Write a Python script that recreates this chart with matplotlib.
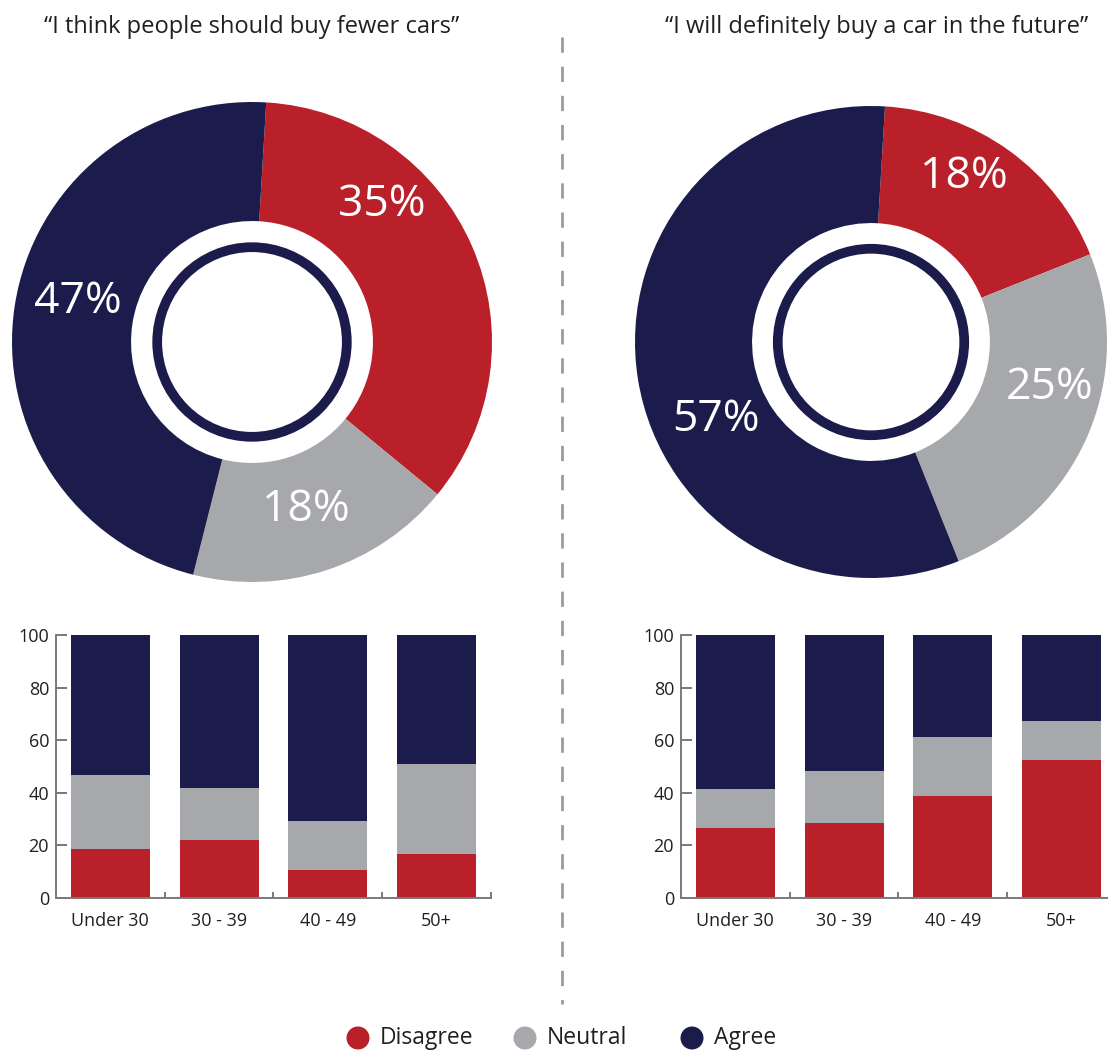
import matplotlib
matplotlib.use("Agg")
import matplotlib.pyplot as plt
from matplotlib.patches import Circle
from matplotlib.lines import Line2D
import numpy as np

plt.rcParams['font.family'] = ['Open Sans', 'DejaVu Sans']

# ---- data ----
responses = ["Disagree", "Neutral", "Agree"]
colors = ["#B92029", "#A7A8AB", "#1C1C4C"]

titles = ["\u201cI think people should buy fewer cars\u201d",
          "\u201cI will definitely buy a car in the future\u201d"]

fewer_cars_pct = [35, 18, 47]
buy_car_pct = [18, 25, 57]

age_groups = ["Under 30", "30 - 39", "40 - 49", "50+"]

fewer_disagree = [18.5, 22.0, 10.5, 16.6]
fewer_neutral = [28.2, 19.8, 18.7, 34.3]
fewer_agree = [53.3, 58.2, 70.8, 49.1]

buy_disagree = [26.5, 28.4, 38.7, 52.4]
buy_neutral = [14.9, 19.8, 22.5, 14.9]
buy_agree = [58.6, 51.8, 38.8, 32.7]

# ---- layout (pixels) ----
W, H = 1108, 1050
fig = plt.figure(figsize=(W / 100, H / 100), dpi=100)
fig.patch.set_facecolor("white")

TEXT = "#231F20"


def px_axes(x0, y0, w, h):
    return fig.add_axes([x0 / W, 1 - (y0 + h) / H, w / W, h / H])


def donut(cx, cy, r, values, label_pos):
    ax = px_axes(cx - r, cy - r, 2 * r, 2 * r)
    ax.pie(values, colors=colors, startangle=86.6, counterclock=False,
           radius=1.0, wedgeprops=dict(width=0.496, linewidth=0))
    ax.set_xlim(-1, 1)
    ax.set_ylim(-1, 1)
    ax.set_aspect("equal")
    ax.axis("off")
    ax.add_patch(Circle((0, 0), 0.395, facecolor="none",
                        edgecolor=colors[2], linewidth=7.0))
    for v, (lx, ly) in zip(values, label_pos):
        ax.text(lx, ly, f"{v}%", color="white", fontsize=32,
                ha="center", va="center")
    return ax


donut(252, 342, 240, fewer_cars_pct,
      [(0.54, 0.57), (0.225, -0.70), (-0.725, 0.167)])
donut(871, 342, 236, buy_car_pct,
      [(0.394, 0.70), (0.758, -0.195), (-0.657, -0.33)])


def stacked(x0, dis, neu, agr):
    ax = px_axes(x0, 635, 435, 263)
    x = np.arange(len(age_groups))
    bw = 0.727
    ax.bar(x, dis, width=bw, color=colors[0], linewidth=0)
    ax.bar(x, neu, width=bw, bottom=dis, color=colors[1], linewidth=0)
    bottom2 = np.array(dis) + np.array(neu)
    ax.bar(x, agr, width=bw, bottom=bottom2, color=colors[2], linewidth=0)
    ax.set_xlim(-0.5, len(age_groups) - 0.5)
    ax.set_ylim(0, 100)
    for s in ("top", "right"):
        ax.spines[s].set_visible(False)
    for s in ("left", "bottom"):
        ax.spines[s].set_color("#7a7a7a")
        ax.spines[s].set_linewidth(1.4)
    ax.set_yticks([0, 20, 40, 60, 80, 100])
    ax.tick_params(axis="y", direction="in", length=8, width=1.1,
                   color="#555555", labelsize=13, labelcolor=TEXT, pad=5)
    ax.set_xticks(x)
    ax.set_xticklabels(age_groups)
    ax.tick_params(axis="x", which="major", length=0, labelsize=13,
                   labelcolor=TEXT, pad=10)
    ax.set_xticks(list(x + 0.5), minor=True)
    ax.tick_params(axis="x", which="minor", direction="in", length=4.5,
                   width=1.1, color="#555555")
    ax.set_facecolor("none")
    return ax


stacked(56, fewer_disagree, fewer_neutral, fewer_agree)
stacked(681, buy_disagree, buy_neutral, buy_agree)

# ---- overlay for titles, divider and legend ----
ov = fig.add_axes([0, 0, 1, 1], zorder=-1)
ov.set_xlim(0, W)
ov.set_ylim(H, 0)
ov.axis("off")

ov.text(252, 27, titles[0], fontsize=17, color=TEXT, ha="center", va="center")
ov.text(877, 27, titles[1], fontsize=17, color=TEXT, ha="center", va="center")

ov.add_line(Line2D([561.5, 561.5], [37, 1004], color="#9a9a9a", linewidth=2.0,
                   dashes=(5.5, 5.0)))

legend_x = [358, 525, 692]
for lx, name, c in zip(legend_x, responses, colors):
    ov.add_patch(Circle((lx, 1038), 11.5, facecolor=c, edgecolor="none"))
    ov.text(lx + 22, 1038, name, fontsize=16.5, color=TEXT, ha="left",
            va="center")

fig.savefig("out.png", dpi=100, facecolor="white")
